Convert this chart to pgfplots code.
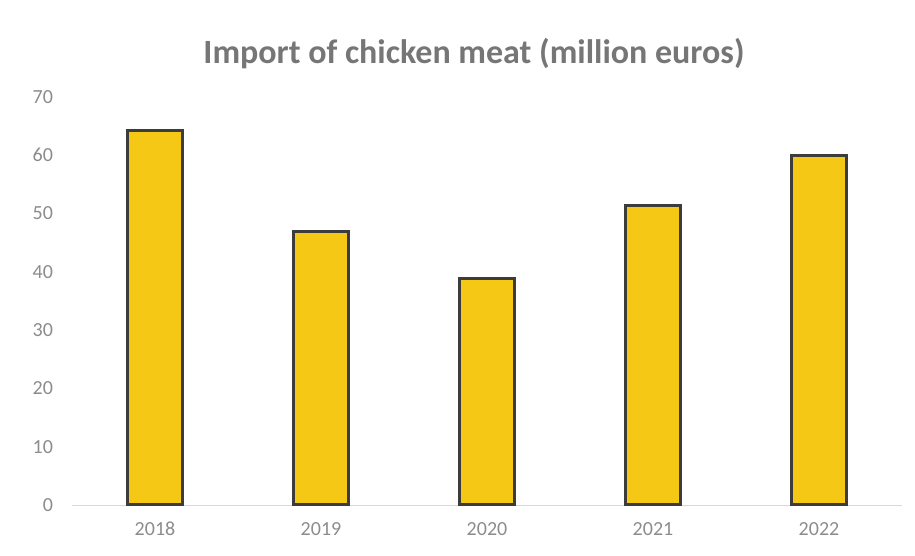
\documentclass[border=0pt]{standalone}
\usepackage{pgfplots}
\pgfplotsset{compat=1.18}
\usepackage{fontspec}
\setmainfont{Carlito}
\definecolor{baryellow}{RGB}{246,200,22}
\definecolor{bardark}{RGB}{60,60,60}
\definecolor{titlegray}{RGB}{118,118,118}
\definecolor{tickgray}{RGB}{140,140,140}
\begin{document}
\begin{tikzpicture}
\useasboundingbox (0,0) rectangle (457.5pt,278pt);
\begin{axis}[
  at={(36pt,25.5pt)}, anchor=south west,
  width=415pt, height=204pt, scale only axis,
  xmin=-0.5, xmax=4.5, ymin=0, ymax=70,
  xtick=data, xticklabels={2018,2019,2020,2021,2022},
  ytick={0,10,...,70},
  axis y line*=left,
  y axis line style={draw=none},
  axis x line*=bottom,
  x axis line style={gray!30, -},
  major tick length=0pt,
  ticklabel style={font=\fontsize{10}{12}\selectfont, text=tickgray},
  /pgf/number format/assume math mode=true,
  yticklabel style={xshift=-6pt},
  xticklabel style={yshift=-5pt},
  clip=false,
]
\addplot[ybar, bar width=27.5pt, fill=baryellow, draw=bardark, line width=1.5pt]
  coordinates {(0,64.2) (1,46.9) (2,38.8) (3,51.4) (4,59.9)};
\end{axis}
\node[font=\bfseries\fontsize{17}{20}\selectfont, text=titlegray] at (237pt,251pt) {Import of chicken meat (million euros)};
\end{tikzpicture}
\end{document}
